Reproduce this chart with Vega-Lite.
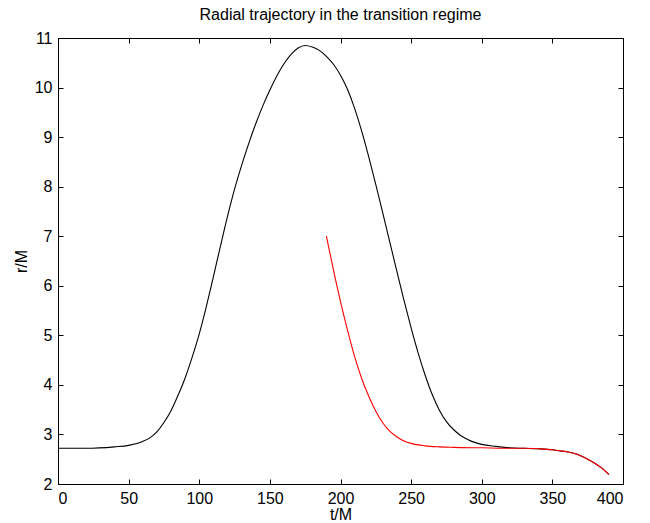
{
  "$schema": "https://vega.github.io/schema/vega-lite/v6.json",
  "autosize": "none",
  "width": 565,
  "height": 446,
  "padding": {"left": 58, "top": 38, "right": 27, "bottom": 39},
  "background": "white",
  "title": {"text": "Radial trajectory in the transition regime", "fontSize": 16, "fontWeight": "normal", "font": "Liberation Sans", "color": "black", "offset": 7},
  "config": {
    "view": {"stroke": "black", "strokeWidth": 1},
    "axis": {"labelFont": "Liberation Sans", "titleFont": "Liberation Sans", "labelFontSize": 16, "titleFontSize": 16, "titleFontWeight": "normal", "labelColor": "black", "titleColor": "black", "domainColor": "black", "tickColor": "black", "grid": false, "tickSize": -5, "labelPadding": 11}
  },
  "datasets": {
    "black": [
      {"t": 0, "r": 2.72}, {"t": 20, "r": 2.72}, {"t": 40, "r": 2.75}, {"t": 50, "r": 2.78}, {"t": 60, "r": 2.86},
      {"t": 65, "r": 2.93}, {"t": 70, "r": 3.05}, {"t": 75, "r": 3.24}, {"t": 80, "r": 3.48}, {"t": 85, "r": 3.79},
      {"t": 90, "r": 4.14}, {"t": 95, "r": 4.56}, {"t": 100, "r": 5.03}, {"t": 105, "r": 5.58}, {"t": 110, "r": 6.18},
      {"t": 115, "r": 6.8}, {"t": 120, "r": 7.4}, {"t": 125, "r": 7.95}, {"t": 130, "r": 8.43}, {"t": 135, "r": 8.87},
      {"t": 140, "r": 9.27}, {"t": 145, "r": 9.63}, {"t": 150, "r": 9.95}, {"t": 155, "r": 10.24}, {"t": 160, "r": 10.48},
      {"t": 165, "r": 10.67}, {"t": 170, "r": 10.8}, {"t": 175, "r": 10.85}, {"t": 180, "r": 10.82}, {"t": 185, "r": 10.75},
      {"t": 190, "r": 10.63}, {"t": 195, "r": 10.47}, {"t": 200, "r": 10.25}, {"t": 205, "r": 9.96}, {"t": 210, "r": 9.58},
      {"t": 215, "r": 9.12}, {"t": 220, "r": 8.6}, {"t": 225, "r": 8.04}, {"t": 230, "r": 7.46}, {"t": 235, "r": 6.87},
      {"t": 240, "r": 6.28}, {"t": 245, "r": 5.7}, {"t": 250, "r": 5.15}, {"t": 255, "r": 4.64}, {"t": 260, "r": 4.19},
      {"t": 265, "r": 3.8}, {"t": 270, "r": 3.49}, {"t": 275, "r": 3.26}, {"t": 280, "r": 3.1}, {"t": 285, "r": 2.98},
      {"t": 290, "r": 2.9}, {"t": 295, "r": 2.84}, {"t": 300, "r": 2.8}, {"t": 310, "r": 2.76}, {"t": 320, "r": 2.73},
      {"t": 330, "r": 2.72}, {"t": 340, "r": 2.71}, {"t": 350, "r": 2.69}, {"t": 355, "r": 2.67}, {"t": 360, "r": 2.65},
      {"t": 365, "r": 2.62}, {"t": 370, "r": 2.57}, {"t": 375, "r": 2.5}, {"t": 380, "r": 2.42}, {"t": 385, "r": 2.32},
      {"t": 390, "r": 2.19}
    ],
    "red": [
      {"t": 190, "r": 7.0}, {"t": 195, "r": 6.32}, {"t": 200, "r": 5.68}, {"t": 205, "r": 5.1}, {"t": 210, "r": 4.57},
      {"t": 215, "r": 4.13}, {"t": 220, "r": 3.77}, {"t": 225, "r": 3.47}, {"t": 230, "r": 3.23}, {"t": 235, "r": 3.06},
      {"t": 240, "r": 2.95}, {"t": 245, "r": 2.87}, {"t": 250, "r": 2.82}, {"t": 260, "r": 2.77}, {"t": 270, "r": 2.75},
      {"t": 280, "r": 2.74}, {"t": 300, "r": 2.73}, {"t": 320, "r": 2.72}, {"t": 330, "r": 2.72}, {"t": 340, "r": 2.71},
      {"t": 350, "r": 2.69}, {"t": 355, "r": 2.67}, {"t": 360, "r": 2.65}, {"t": 365, "r": 2.62}, {"t": 370, "r": 2.57},
      {"t": 375, "r": 2.5}, {"t": 380, "r": 2.42}, {"t": 385, "r": 2.32}, {"t": 390, "r": 2.19}
    ]
  },
  "layer": [
    {
      "data": {"name": "black"},
      "mark": {"type": "line", "color": "black", "strokeWidth": 1.1, "interpolate": "monotone"},
      "encoding": {
        "x": {"field": "t", "type": "quantitative", "scale": {"domain": [0, 400], "nice": false}, "axis": {"orient": "bottom", "title": "t/M", "values": [0, 50, 100, 150, 200, 250, 300, 350, 400], "titlePadding": 0}},
        "y": {"field": "r", "type": "quantitative", "scale": {"domain": [2, 11], "nice": false, "zero": false}, "axis": {"orient": "left", "title": "r/M", "values": [2, 3, 4, 5, 6, 7, 8, 9, 10, 11], "titlePadding": 5}}
      }
    },
    {
      "data": {"name": "red"},
      "mark": {"type": "line", "color": "red", "strokeWidth": 1.1, "interpolate": "monotone"},
      "encoding": {
        "x": {"field": "t", "type": "quantitative", "axis": {"orient": "top", "title": null, "labels": false, "values": [0, 50, 100, 150, 200, 250, 300, 350, 400]}},
        "y": {"field": "r", "type": "quantitative", "axis": {"orient": "right", "title": null, "labels": false, "values": [2, 3, 4, 5, 6, 7, 8, 9, 10, 11]}}
      }
    }
  ],
  "resolve": {"axis": {"x": "independent", "y": "independent"}}
}
